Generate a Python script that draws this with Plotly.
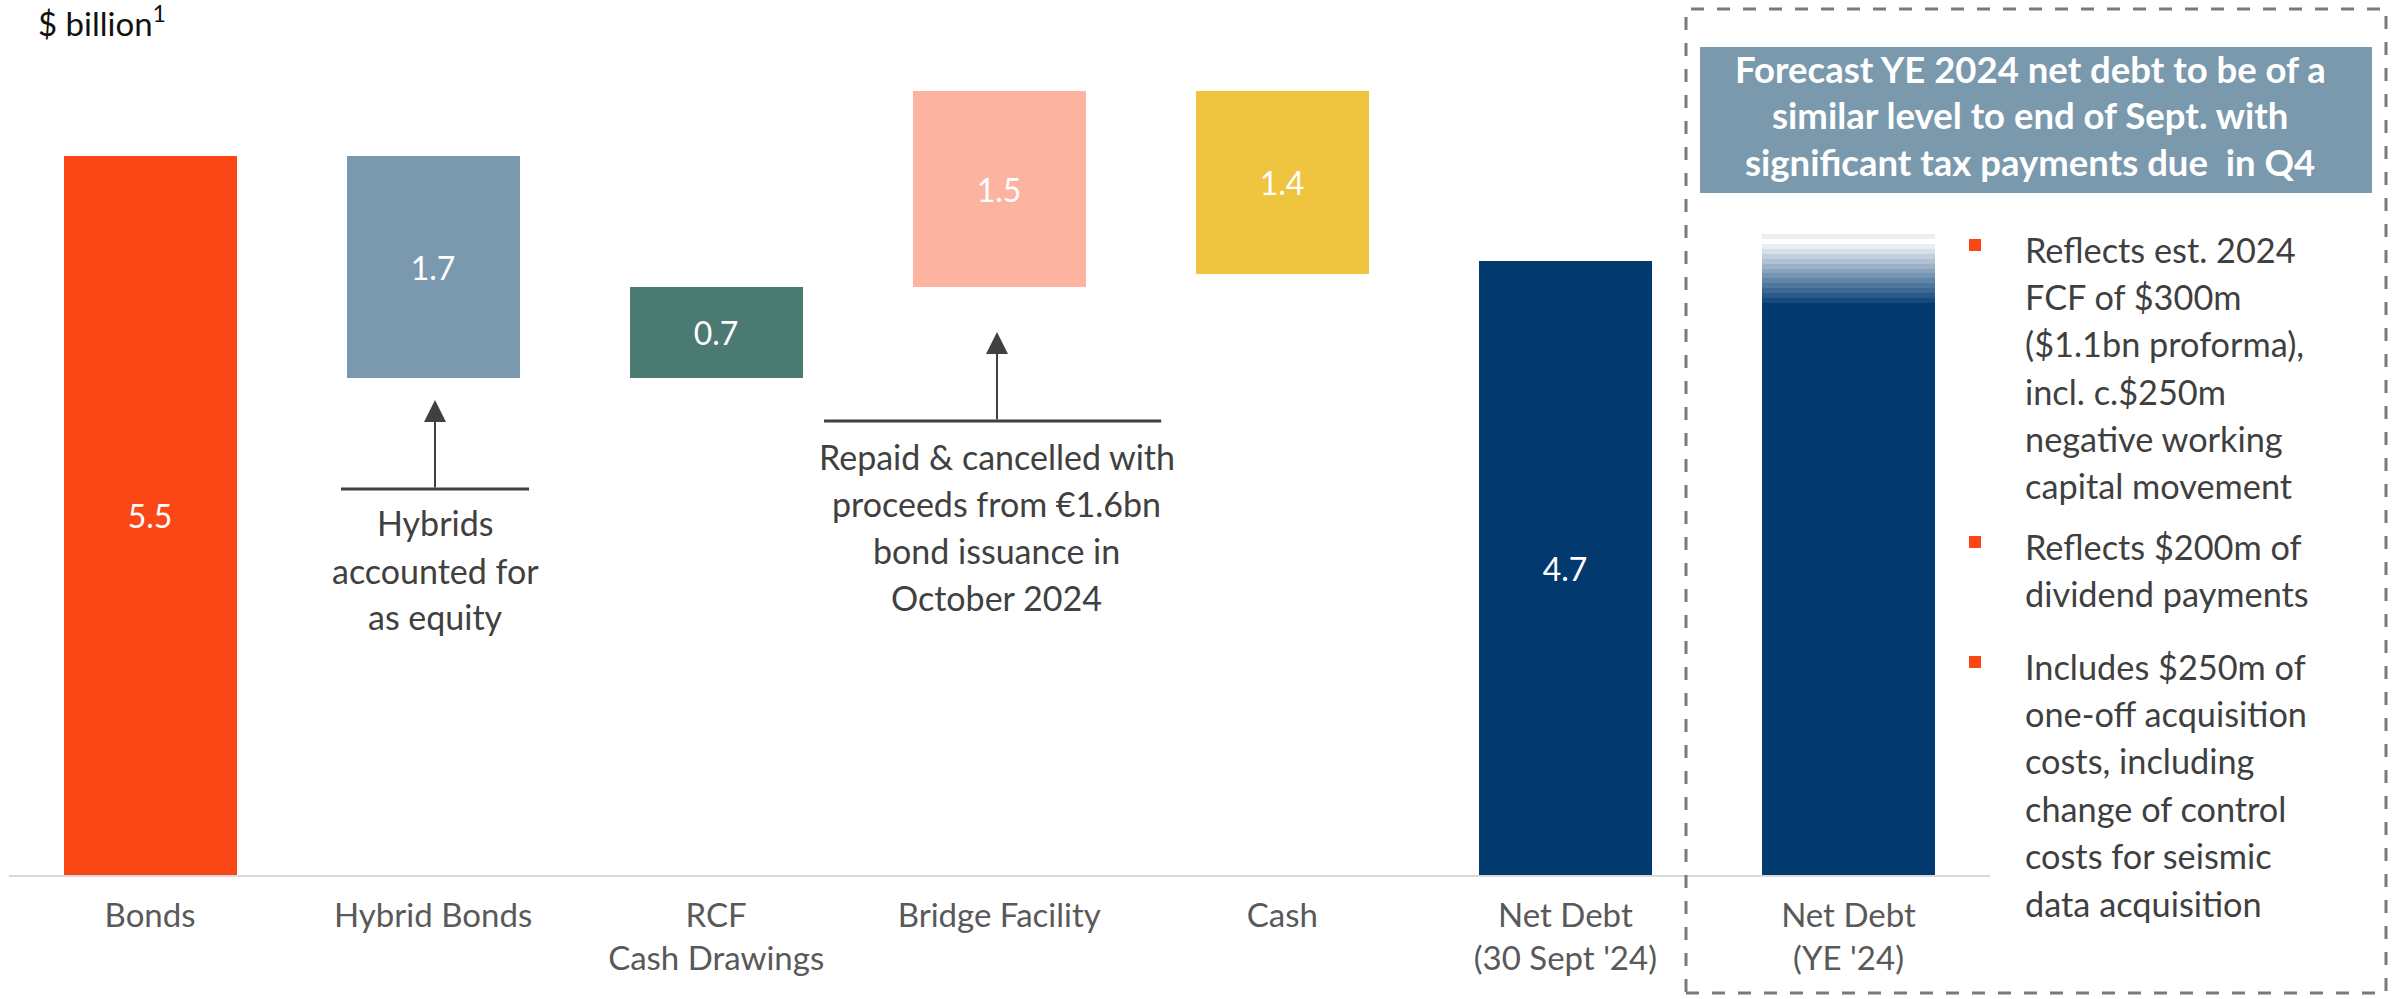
import plotly.graph_objects as go

# ---------------- data ----------------
categories = ["Bonds", "Hybrid Bonds", "RCF<br>Cash Drawings", "Bridge Facility", "Cash",
              "Net Debt<br>(30 Sept '24)", "Net Debt<br>(YE '24)"]
bar_base = [0, 3.8, 3.8, 4.5, 4.6, 0, 0]
bar_value = [5.5, 1.7, 0.7, 1.5, 1.4, 4.7, 4.38]
bar_labels = ["5.5", "1.7", "0.7", "1.5", "1.4", "4.7", ""]
ye_low = 4.38
ye_high = 4.90

header_lines = ["Forecast YE 2024 net debt to be of a",
                "similar level to end of Sept. with",
                "significant tax payments due  in Q4"]
bullet_1 = ["Reflects est. 2024", "FCF of $300m", "($1.1bn proforma),", "incl. c.$250m",
            "negative working", "capital movement"]
bullet_2 = ["Reflects $200m of", "dividend payments"]
bullet_3 = ["Includes $250m of", "one-off acquisition", "costs, including", "change of control",
            "costs for seismic", "data acquisition"]
hybrid_note = ["Hybrids", "accounted for", "as equity"]
bridge_note = ["Repaid & cancelled with", "proceeds from €1.6bn", "bond issuance in", "October 2024"]
unit_label = "$ billion<sup>1</sup>"

# ---------------- style ----------------
W, H = 2397, 999
BASE_PX = 875
PX_PER_UNIT = 130.7
FONT = "Lato"
bar_colors = ["#FB4616", "#7B99AE", "#4B7A73", "#FCB4A1", "#EFC43E", "#023A6F", "#023A6F"]


def px_x(px):
    return px / W


def px_y(py):
    return (BASE_PX - py) / BASE_PX


def mix(c1, c2, t):
    a = [int(c1[i:i + 2], 16) for i in (1, 3, 5)]
    b = [int(c2[i:i + 2], 16) for i in (1, 3, 5)]
    return "#%02x%02x%02x" % tuple(round(a[k] + (b[k] - a[k]) * t) for k in range(3))


xs = list(range(len(categories)))
BW = 0.611

fig = go.Figure()
fig.add_trace(go.Bar(
    x=xs, y=bar_value, base=bar_base, width=BW,
    marker=dict(color=bar_colors, line=dict(width=0)),
    text=bar_labels, textposition="inside", insidetextanchor="middle",
    textfont=dict(family=FONT, size=32, color="white"),
    constraintext="none", hoverinfo="skip", showlegend=False,
))

# gradient band of the YE forecast bar
n_steps = 14
step = (ye_high - ye_low) / n_steps
g_base, g_col = [], []
for i in range(n_steps):
    g_base.append(ye_low + i * step)
    if i < 12:
        g_col.append(mix("#154A7D", "#E9EEF3", i / 11))
    elif i == 12:
        g_col.append("#FFFFFF")
    else:
        g_col.append("#EBEFF3")
fig.add_trace(go.Bar(
    x=[xs[-1]] * n_steps, y=[step * 1.02] * n_steps, base=g_base, width=BW,
    marker=dict(color=g_col, line=dict(width=0)),
    hoverinfo="skip", showlegend=False,
))

shapes = []
annotations = []

# dashed outline of the forecast panel
shapes.append(dict(type="rect", xref="paper", yref="paper",
                   x0=px_x(1686), x1=px_x(2386), y0=px_y(993), y1=px_y(9),
                   line=dict(color="#7A7A7A", width=3, dash="13px,13px"), layer="above"))
# header box
shapes.append(dict(type="rect", xref="paper", yref="paper",
                   x0=px_x(1700), x1=px_x(2372), y0=px_y(193), y1=px_y(47),
                   fillcolor="#7A99AD", line=dict(width=0), layer="above"))
for t, cy in zip(header_lines, [69, 115, 162]):
    annotations.append(dict(text="<b>%s</b>" % t, xref="paper", yref="paper",
                            x=px_x(2030), y=px_y(cy), xanchor="center", yanchor="middle",
                            showarrow=False, font=dict(family=FONT, size=36.5, color="white")))

# bullets
bullet_blocks = [(bullet_1, 249), (bullet_2, 546), (bullet_3, 666)]
for lines, y0 in bullet_blocks:
    shapes.append(dict(type="rect", xref="paper", yref="paper",
                       x0=px_x(1969), x1=px_x(1981), y0=px_y(y0 + 2), y1=px_y(y0 - 10),
                       fillcolor="#FB4616", line=dict(width=0)))
    for k, t in enumerate(lines):
        annotations.append(dict(text=t, xref="paper", yref="paper",
                                x=px_x(2023), y=px_y(y0 + k * 47.4), xanchor="left", yanchor="middle",
                                showarrow=False, font=dict(family=FONT, size=34.3, color="#3F3F3F")))

# callouts
callouts = [(1.0067, 3.634, 2.953, 0.6746, 1.339, hybrid_note, 523),
            (2.992, 4.155, 3.474, 2.381, 3.572, bridge_note, 456)]
for cx, tip, tail, lx0, lx1, lines, y0 in callouts:
    shapes.append(dict(type="line", xref="x", yref="y", x0=lx0, x1=lx1, y0=tail, y1=tail,
                       line=dict(color="#404040", width=3)))
    annotations.append(dict(x=cx, y=tip, ax=cx, ay=tail, xref="x", yref="y", axref="x", ayref="y",
                            text="", showarrow=True, arrowhead=2, arrowsize=2.2, arrowwidth=2,
                            arrowcolor="#404040", standoff=0, startstandoff=0))
    for k, t in enumerate(lines):
        annotations.append(dict(text=t, xref="x", yref="paper", x=cx, y=px_y(y0 + k * 47),
                                xanchor="center", yanchor="middle", showarrow=False,
                                font=dict(family=FONT, size=34, color="#404040")))

annotations.append(dict(text=unit_label, xref="paper", yref="paper", x=px_x(36), y=px_y(21),
                        xanchor="left", yanchor="middle", showarrow=False,
                        font=dict(family=FONT, size=33, color="#111111")))

fig.update_layout(
    width=W, height=H,
    margin=dict(l=0, r=0, t=0, b=H - BASE_PX),
    paper_bgcolor="white", plot_bgcolor="white",
    barmode="overlay", bargap=0,
    shapes=shapes, annotations=annotations,
    xaxis=dict(domain=[8.5 / W, 1990 / W], range=[-0.5, 6.5], tickvals=xs, ticktext=categories,
               showgrid=False, zeroline=False, showline=True, linecolor="#D9D9D9", linewidth=2,
               ticks="", ticklabelstandoff=10,
               tickfont=dict(family=FONT, size=33, color="#595959"), fixedrange=True),
    yaxis=dict(range=[0, BASE_PX / PX_PER_UNIT], visible=False, fixedrange=True),
    font=dict(family=FONT),
)

fig.write_html("out.html", config={"displayModeBar": False},
               post_script="document.body.style.margin='0px';")
